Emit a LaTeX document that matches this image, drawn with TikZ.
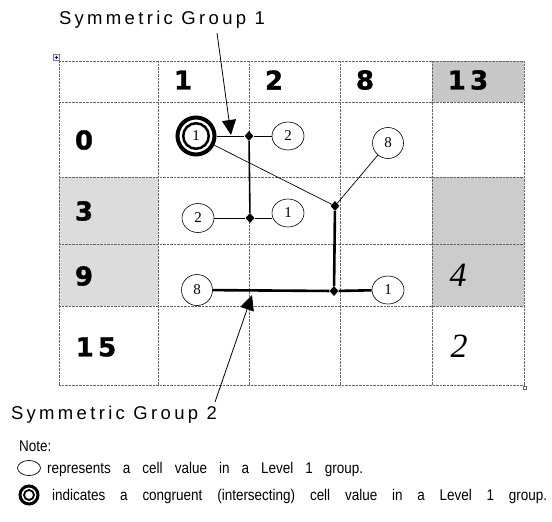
\documentclass[tikz,border=0pt]{standalone}
\usepackage{fontspec}
\setmainfont{Liberation Serif}
\newfontfamily\grpfont[LetterSpace=18]{Liberation Sans}
\newfontfamily\notefont{Liberation Sans}
\newfontfamily\hdrfont[BoldFeatures={FakeBold=1.2}]{DejaVu Sans}
\usetikzlibrary{shapes.geometric,arrows.meta}
\definecolor{shadeA}{HTML}{C8C8C8}
\definecolor{shadeB}{HTML}{DCDCDC}
\definecolor{shadeC}{HTML}{CCCCCC}
\newcommand{\nw}[1]{\scalebox{0.87}[1]{#1}}
\tikzset{
  gridline/.style={draw=black!60, line width=0.7pt, dash pattern=on 0.7pt off 0.7pt},
  hdr/.style={font=\hdrfont\bfseries\fontsize{26}{26}\selectfont, inner sep=0pt},
  hand/.style={font=\itshape\fontsize{34}{34}\selectfont, inner sep=0pt},
  val/.style={ellipse, draw, line width=0.6pt, minimum width=32pt, minimum height=28pt, inner sep=0pt, fill=white, font=\fontsize{15}{15}\selectfont},
  knot/.style={diamond, fill=black, minimum width=9pt, minimum height=10pt, inner sep=0pt},
  thin/.style={line width=0.7pt},
  mid/.style={line width=1.6pt},
  thick/.style={line width=2.6pt},
  callout/.style={line width=0.8pt, -{Triangle[length=15pt,width=14pt]}},
  grp/.style={font=\grpfont\fontsize{18.5}{18.5}\selectfont, inner sep=0pt},
  note/.style={font=\notefont\fontsize{15.5}{15.5}\selectfont, inner sep=0pt, anchor=west}
}
\begin{document}
\begin{tikzpicture}[x=1pt,y=-1pt]
\useasboundingbox (0,0) rectangle (552,522);
% shaded cells
\fill[shadeA] (432,61) rectangle (524,102);
\fill[shadeB] (59,177) rectangle (158,244);
\fill[shadeC] (432,177) rectangle (524,244);
\fill[shadeB] (59,244) rectangle (158,306);
\fill[shadeC] (432,244) rectangle (524,306);
% grid
\foreach \x in {59,158,249,340,432,524} \draw[gridline] (\x,61) -- (\x,385);
\foreach \y in {61,102,177,244,306,385} \draw[gridline] (59,\y) -- (524,\y);
% table handles
\draw[black!50, line width=0.4pt, fill=blue!8] (53,54) rectangle (59,60);
\draw[blue!60!black, line width=0.4pt] (54.5,57) -- (57.5,57) (56,55.5) -- (56,58.5);
\draw[black!60, line width=0.4pt, fill=white] (523,386) rectangle (526,389);
% headers
\node[hdr] (h1) at (183,80) {1};
\node[hdr] (h2) at (274,80) {2};
\node[hdr] (h8) at (365,80) {8};
\node[hdr] (h13) at (468,80) {1\,3};
\node[hdr] (r0) at (84,140) {0};
\node[hdr] (r3) at (84,211) {3};
\node[hdr] (r9) at (84,276) {9};
\node[hdr] (r15) at (96,347) {1\,5};
\node[hand] (c4) at (458,275) {4};
\node[hand] (c2) at (459,346) {2};
% value nodes
\node[circle, draw, line width=4pt, minimum size=37pt, inner sep=0pt, fill=white] (dc) at (196,136) {};
\node[circle, draw, line width=2.5pt, minimum size=25.5pt, inner sep=0pt, font=\fontsize{15}{15}\selectfont] (dci) at (dc.center) {1};
\node[val] (e2a) at (288,136) {2};
\node[val, minimum width=31pt, minimum height=31pt] (e8a) at (388,143) {8};
\node[val, minimum height=29pt] (e2b) at (198,218) {2};
\node[val] (e1b) at (288,213) {1};
\node[val, minimum width=31pt, minimum height=31pt] (e8b) at (197,290) {8};
\node[val] (e1c) at (388,290) {1};
% knots
\node[knot] (d1) at (249,136) {};
\node[knot] (d2) at (250,218) {};
\node[knot] (d3) at (335,206) {};
\node[knot] (d4) at (334,291) {};
% connectors
\draw[thin] (dc.east) -- (d1) -- (e2a);
\draw[mid] (d1) -- (d2);
\draw[thin] (e2b) -- (d2) -- (d2 -| e1b.west);
\draw[thin] (dc) -- (d3) -- (e8a);
\draw[thick] (d3) -- (d4) -- (e1c);
\draw[thick] (d4) -- (e8b);
% group labels
\node[grp] (g1) at (162,20) {Symmetric Group 1};
\coordinate (g1s) at (217,33);
\coordinate (g1t) at (231,135);
\draw[callout] (g1s) -- (g1t);
\node[grp] (g2) at (114,415) {Symmetric Group 2};
\coordinate (g2s) at (215,402);
\coordinate (g2t) at (252,295);
\draw[callout] (g2s) -- (g2t);
% note
\node[note] (nt) at (19,446) {\nw{Note:}};
\node[ellipse, draw, line width=0.7pt, minimum width=23pt, minimum height=15pt, inner sep=0pt] (ls) at (29,468) {};
\node[note] (n1) at (47,469) {\makebox[316pt][s]{\nw{represents} \nw{a} \nw{cell} \nw{value} \nw{in} \nw{a} \nw{Level} \nw{1} \nw{group.}}};
\node[circle, draw, line width=3pt, minimum size=18pt, inner sep=0pt] (ldo) at (29,495) {};
\node[circle, draw, line width=1.8pt, minimum size=10pt, inner sep=0pt] (ldi) at (ldo.center) {};
\node[note] (n2) at (52,496) {\makebox[495pt][s]{\nw{indicates} \nw{a} \nw{congruent} \nw{(intersecting)} \nw{cell} \nw{value} \nw{in} \nw{a} \nw{Level} \nw{1} \nw{group.}}};
\end{tikzpicture}
\end{document}
